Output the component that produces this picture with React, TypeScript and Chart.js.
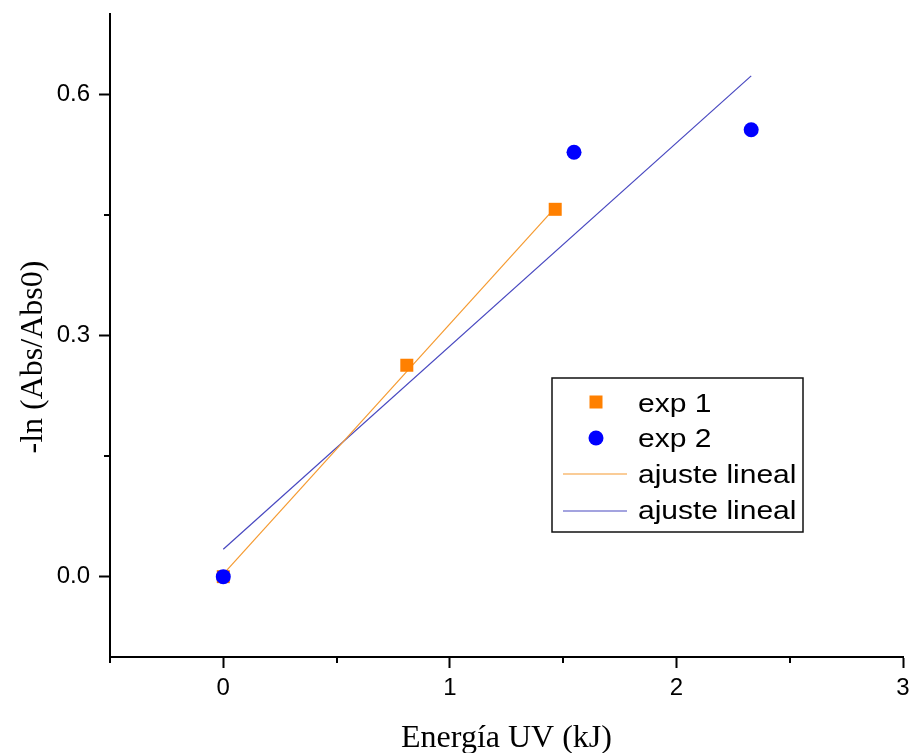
import React, { useEffect, useRef } from "react";
import { Chart, registerables } from "chart.js";

Chart.register(...registerables);

// ---- data ----
const EXP1_X = [0, 0.81, 1.465];
const EXP1_Y = [0, 0.263, 0.457];
const EXP2_X = [0, 1.548, 2.33];
const EXP2_Y = [0, 0.528, 0.556];
const FIT1_X = [0, 1.465];
const FIT1_Y = [0.003, 0.459];
const FIT2_X = [0, 2.33];
const FIT2_Y = [0.034, 0.623];

const X_TICKS = [0, 1, 2, 3];
const X_MINOR = [-0.5, 0.5, 1.5, 2.5];
const Y_TICKS = [0, 0.3, 0.6];
const Y_MINOR = [0.15, 0.45];

const LEGEND_LABELS = ["exp 1", "exp 2", "ajuste lineal", "ajuste lineal"];
const X_TITLE = "Energía UV (kJ)";
const Y_TITLE = "-ln (Abs/Abs0)";

const ORANGE = "#FF8000";
const BLUE = "#0000FF";
const ORANGE_LINE = "#F59A30";
const BLUE_LINE = "#4848C0";

const zip = (xs: number[], ys: number[]) => xs.map((x, i) => ({ x, y: ys[i] }));

const minorTicksPlugin = {
  id: "minorTicks",
  afterDraw(chart: any) {
    const ctx = chart.ctx;
    const xs = chart.scales.x;
    const ys = chart.scales.y;
    const area = chart.chartArea;
    ctx.save();
    ctx.strokeStyle = "#000";
    ctx.lineWidth = 2;
    X_MINOR.forEach((v) => {
      const px = Math.round(xs.getPixelForValue(v));
      ctx.beginPath();
      ctx.moveTo(px, area.bottom);
      ctx.lineTo(px, area.bottom + 6);
      ctx.stroke();
    });
    Y_MINOR.forEach((v) => {
      const py = Math.round(ys.getPixelForValue(v));
      ctx.beginPath();
      ctx.moveTo(area.left, py);
      ctx.lineTo(area.left - 6, py);
      ctx.stroke();
    });
    ctx.restore();
  },
};

const titlesPlugin = {
  id: "titles",
  afterDraw(chart: any) {
    const ctx = chart.ctx;
    const area = chart.chartArea;
    ctx.save();
    ctx.fillStyle = "#000";
    ctx.font = '32px "Liberation Serif"';
    ctx.textAlign = "center";
    ctx.textBaseline = "alphabetic";
    ctx.fillText(X_TITLE, (area.left + area.right) / 2, 747);
    ctx.translate(42, 357);
    ctx.rotate(-Math.PI / 2);
    ctx.fillText(Y_TITLE, 0, 0);
    ctx.restore();
  },
};

const legendPlugin = {
  id: "customLegend",
  afterDraw(chart: any) {
    const ctx = chart.ctx;
    const ds = chart.data.datasets;
    const box = { l: 552, t: 378, r: 803, b: 532 };
    ctx.save();
    ctx.fillStyle = "#fff";
    ctx.fillRect(box.l, box.t, box.r - box.l, box.b - box.t);
    ctx.strokeStyle = "#111";
    ctx.lineWidth = 1.5;
    ctx.strokeRect(box.l, box.t, box.r - box.l, box.b - box.t);

    const rows = [402, 438, 474, 511];
    const symX = 596;
    ctx.fillStyle = ds[1].backgroundColor;
    ctx.fillRect(symX - 6.5, rows[0] - 6.5, 13, 13);
    ctx.fillStyle = ds[0].backgroundColor;
    ctx.beginPath();
    ctx.arc(symX, rows[1], 7.5, 0, Math.PI * 2);
    ctx.fill();
    ctx.lineWidth = 1.2;
    ctx.strokeStyle = ds[2].borderColor;
    ctx.beginPath();
    ctx.moveTo(563, rows[2]);
    ctx.lineTo(627, rows[2]);
    ctx.stroke();
    ctx.strokeStyle = ds[3].borderColor;
    ctx.beginPath();
    ctx.moveTo(563, rows[3]);
    ctx.lineTo(627, rows[3]);
    ctx.stroke();

    ctx.fillStyle = "#000";
    ctx.font = '25px "Liberation Sans"';
    ctx.textAlign = "left";
    ctx.textBaseline = "alphabetic";
    const baselines = [412, 447, 483, 519];
    LEGEND_LABELS.forEach((lab, i) => {
      ctx.save();
      ctx.translate(638, baselines[i]);
      ctx.scale(1.2, 1);
      ctx.fillText(lab, 0, 0);
      ctx.restore();
    });
    ctx.restore();
  },
};

export default function App() {
  const ref = useRef<HTMLCanvasElement | null>(null);

  useEffect(() => {
    if (!ref.current) return;
    const tickFont = { family: '"Liberation Sans", Arial, sans-serif', size: 24 };
    const chart = new Chart(ref.current, {
      type: "scatter",
      data: {
        datasets: [
          {
            label: "exp 2",
            data: zip(EXP2_X, EXP2_Y),
            pointStyle: "circle",
            pointRadius: 7.5,
            pointHoverRadius: 7.5,
            backgroundColor: BLUE,
            borderColor: BLUE,
            borderWidth: 0,
            showLine: false,
            order: 0,
          },
          {
            label: "exp 1",
            data: zip(EXP1_X, EXP1_Y),
            pointStyle: "rect",
            pointRadius: 9.2,
            pointHoverRadius: 9.2,
            backgroundColor: ORANGE,
            borderColor: ORANGE,
            borderWidth: 0,
            showLine: false,
            order: 1,
          },
          {
            label: "ajuste lineal",
            data: zip(FIT1_X, FIT1_Y),
            showLine: true,
            pointRadius: 0,
            borderColor: ORANGE_LINE,
            borderWidth: 1.2,
            backgroundColor: ORANGE_LINE,
            order: 2,
          },
          {
            label: "ajuste lineal",
            data: zip(FIT2_X, FIT2_Y),
            showLine: true,
            pointRadius: 0,
            borderColor: BLUE_LINE,
            borderWidth: 1.2,
            backgroundColor: BLUE_LINE,
            order: 3,
          },
        ] as any,
      },
      options: {
        animation: false,
        responsive: false,
        maintainAspectRatio: false,
        layout: { autoPadding: false, padding: { top: 14, right: 6, left: 0, bottom: 0 } },
        plugins: {
          legend: { display: false },
          tooltip: { enabled: false },
          title: { display: false },
        },
        scales: {
          x: {
            type: "linear",
            min: -0.5,
            max: 3,
            afterBuildTicks: (s: any) => {
              s.ticks = X_TICKS.map((v) => ({ value: v }));
            },
            afterFit: (s: any) => {
              s.height = 96;
              s.paddingLeft = 0;
              s.paddingRight = 0;
            },
            grid: {
              drawOnChartArea: false,
              drawTicks: true,
              tickLength: 11,
              tickWidth: 2,
              tickColor: "#000",
              color: "#000",
            },
            border: { display: true, color: "#000", width: 2 },
            ticks: {
              color: "#000",
              font: tickFont,
              padding: 6,
              maxRotation: 0,
              callback: (v: any) => String(v),
            },
          },
          y: {
            type: "linear",
            min: -0.1,
            max: 0.7,
            afterBuildTicks: (s: any) => {
              s.ticks = Y_TICKS.map((v) => ({ value: v }));
            },
            afterFit: (s: any) => {
              s.width = 110;
              s.paddingTop = 0;
              s.paddingBottom = 0;
            },
            grid: {
              drawOnChartArea: false,
              drawTicks: true,
              tickLength: 11,
              tickWidth: 2,
              tickColor: "#000",
              color: "#000",
            },
            border: { display: true, color: "#000", width: 2 },
            ticks: {
              color: "#000",
              font: tickFont,
              padding: 9,
              callback: (v: any) => Number(v).toFixed(1),
            },
          },
        },
      } as any,
      plugins: [minorTicksPlugin, titlesPlugin, legendPlugin],
    });
    return () => chart.destroy();
  }, []);

  return (
    <div style={{ position: "absolute", left: 0, top: 0, width: 909, height: 753, background: "#fff" }}>
      <canvas ref={ref} width={909} height={753} style={{ display: "block" }} />
    </div>
  );
}
